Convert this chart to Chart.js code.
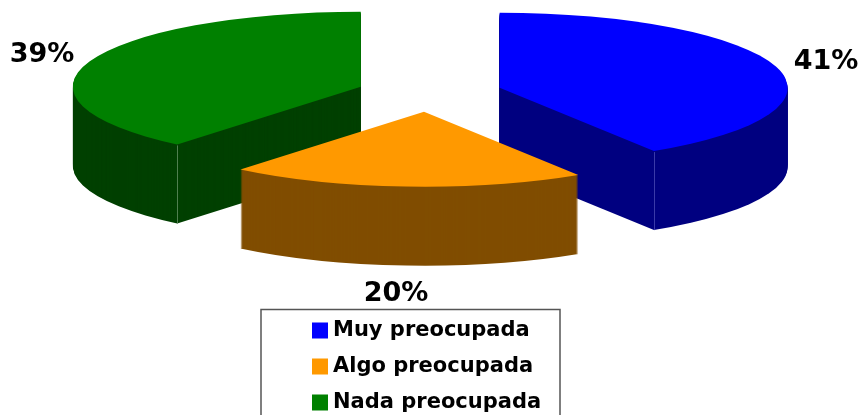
<!DOCTYPE html>
<html>
<head>
<meta charset="utf-8">
<style>html,body{margin:0;padding:0;background:#fff;overflow:hidden}canvas{display:block}</style>
<script src="https://cdn.jsdelivr.net/npm/chart.js@4/dist/chart.umd.js"></script>
</head>
<body>
<canvas id="c" width="861" height="415"></canvas>
<script>
const categories = ['Muy preocupada', 'Algo preocupada', 'Nada preocupada'];
const values = [41, 20, 39];
const topColors = ['#0000FF', '#FF9900', '#008000'];
const wallColors = ['#000080', '#804D00', '#004000'];
const edgeColors = ['#3A3AA8', null, '#4F7F4F'];
const drawOrder = [0, 2, 1];

const CY = 93, SQUASH = 75 / 288, DEPTH = 79;
const sliceNudge = [0, -2, -2];
const labelSpots = [[826, 62], [396, 294], [42, 55]];
const legendBox = {left: 261, top: 309.5, width: 299, height: 120};

const pie3d = {
  id: 'pie3d',
  afterLayout(chart) {
    const l = chart.legend;
    l.left = 302.5; l.right = 560; l.top = 305; l.bottom = 600;
  },
  beforeDatasetDraw(chart, args) {
    const ctx = chart.ctx;
    const arcs = args.meta.data;
    const place = (arc, i, dy) => {
      const half = (arc.startAngle + arc.endAngle) / 2;
      const off = arc.options.offset / 4;
      ctx.translate(sliceNudge[i], CY + dy);
      ctx.scale(1, SQUASH);
      ctx.translate(0, -arc.y);
      ctx.translate(Math.cos(half) * off, Math.sin(half) * off);
    };
    const paint = (arc, color) => {
      const saved = arc.options;
      arc.options = Object.assign({}, saved, {offset: 0, backgroundColor: color, borderWidth: 0});
      arc.draw(ctx);
      arc.options = saved;
    };
    drawOrder.forEach(i => {
      const arc = arcs[i];
      for (let d = DEPTH; d >= 1; d--) {
        ctx.save(); place(arc, i, d); paint(arc, wallColors[i]); ctx.restore();
      }
      ctx.save(); place(arc, i, 0); paint(arc, topColors[i]); ctx.restore();
      if (edgeColors[i]) {
        const a = i === 0 ? arc.endAngle : arc.startAngle;
        const half = (arc.startAngle + arc.endAngle) / 2;
        const off = arc.options.offset / 4;
        const px = sliceNudge[i] + arc.x + Math.cos(half) * off + Math.cos(a) * arc.outerRadius;
        const py = CY + SQUASH * (Math.sin(half) * off + Math.sin(a) * arc.outerRadius);
        ctx.save();
        ctx.strokeStyle = edgeColors[i]; ctx.lineWidth = 1;
        ctx.beginPath();
        ctx.moveTo(Math.round(px) + 0.5, py + 1);
        ctx.lineTo(Math.round(px) + 0.5, py + DEPTH);
        ctx.stroke();
        ctx.restore();
      }
    });
    return false;
  },
  afterDraw(chart) {
    const ctx = chart.ctx;
    ctx.save();
    ctx.strokeStyle = '#555555'; ctx.lineWidth = 1.5;
    ctx.strokeRect(legendBox.left, legendBox.top, legendBox.width, legendBox.height);
    ctx.fillStyle = '#000';
    ctx.font = 'bold 27px "DejaVu Sans"';
    ctx.textAlign = 'center'; ctx.textBaseline = 'middle';
    values.forEach((v, i) => ctx.fillText(v + '%', labelSpots[i][0], labelSpots[i][1]));
    ctx.restore();
  }
};

new Chart(document.getElementById('c'), {
  type: 'pie',
  data: {
    labels: categories,
    datasets: [{
      data: values,
      backgroundColor: topColors,
      borderColor: topColors,
      borderWidth: 0,
      offset: 288
    }]
  },
  options: {
    responsive: false,
    animation: false,
    radius: 288,
    layout: {padding: 0},
    plugins: {
      tooltip: {enabled: false},
      legend: {
        position: 'chartArea',
        align: 'start',
        labels: {
          color: '#000',
          font: {family: '"DejaVu Sans"', size: 21, weight: 'bold'},
          boxWidth: 5,
          boxHeight: 5,
          padding: 15,
          generateLabels(chart) {
            return categories.map((t, i) => ({
              text: t, fillStyle: topColors[i], strokeStyle: topColors[i],
              lineWidth: 11, lineJoin: 'miter', hidden: false, index: i
            }));
          }
        }
      }
    }
  },
  plugins: [pie3d]
});
</script>
</body>
</html>
